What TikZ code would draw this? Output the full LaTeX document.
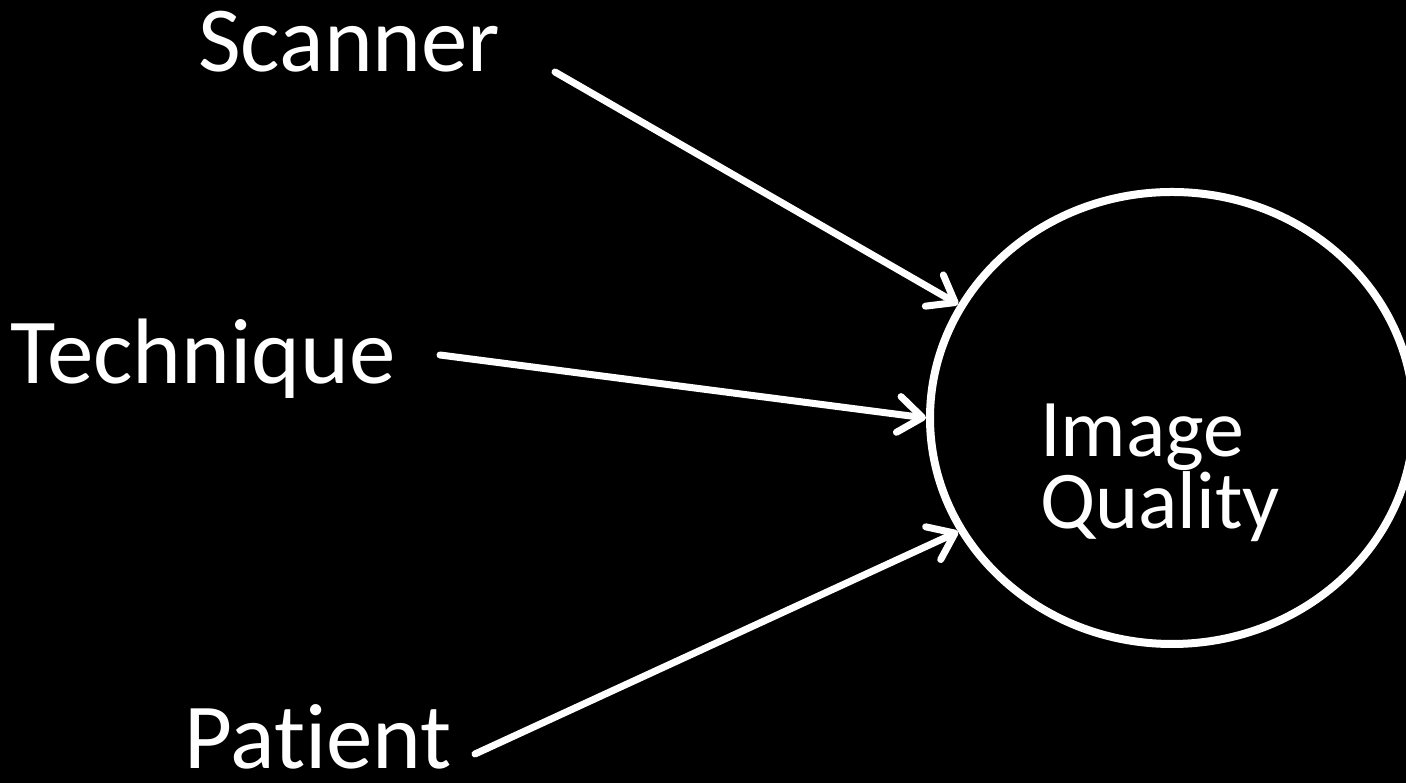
\documentclass[tikz,border=0pt]{standalone}
\usepackage{fontspec}
\setmainfont{Carlito}[Ligatures=NoCommon]
\usetikzlibrary{arrows.meta,shapes.geometric}
\begin{document}
\begin{tikzpicture}[x=1pt,y=1pt,
  lbl/.style={text=white,inner sep=0pt,anchor=base west,text depth=0pt,font=\fontsize{93}{110}\selectfont},
  inner/.style={text=white,inner sep=0pt,align=left,anchor=north west,font=\fontsize{82}{66}\selectfont},
  conn/.style={draw=white,line width=7pt,line cap=round,
    -{Straight Barb[length=24pt,width=36pt,line cap=round,line join=round]}},
  bubble/.style={ellipse,draw=white,line width=8pt,minimum width=484pt,minimum height=452pt,inner sep=0pt}]
\fill[black] (0,0) rectangle (1406,783);
\useasboundingbox (0,0) rectangle (1406,783);
\node[bubble] (iq) at (1172,365) {};
\node[lbl] (scanner) at (198,711) {Scanner};
\node[lbl] (technique) at (10,399) {Technique};
\node[lbl] (patient) at (184,14) {Patient};
\node[inner] (label) at (1040,379) {Image\\Quality};
\coordinate (s1) at (555,711);
\coordinate (s2) at (440,428);
\coordinate (s3) at (475,29);
\draw[conn] (s1) -- (iq.152);
\draw[conn] (s2) -- (iq.180);
\draw[conn] (s3) -- (iq.208);
\end{tikzpicture}
\end{document}
